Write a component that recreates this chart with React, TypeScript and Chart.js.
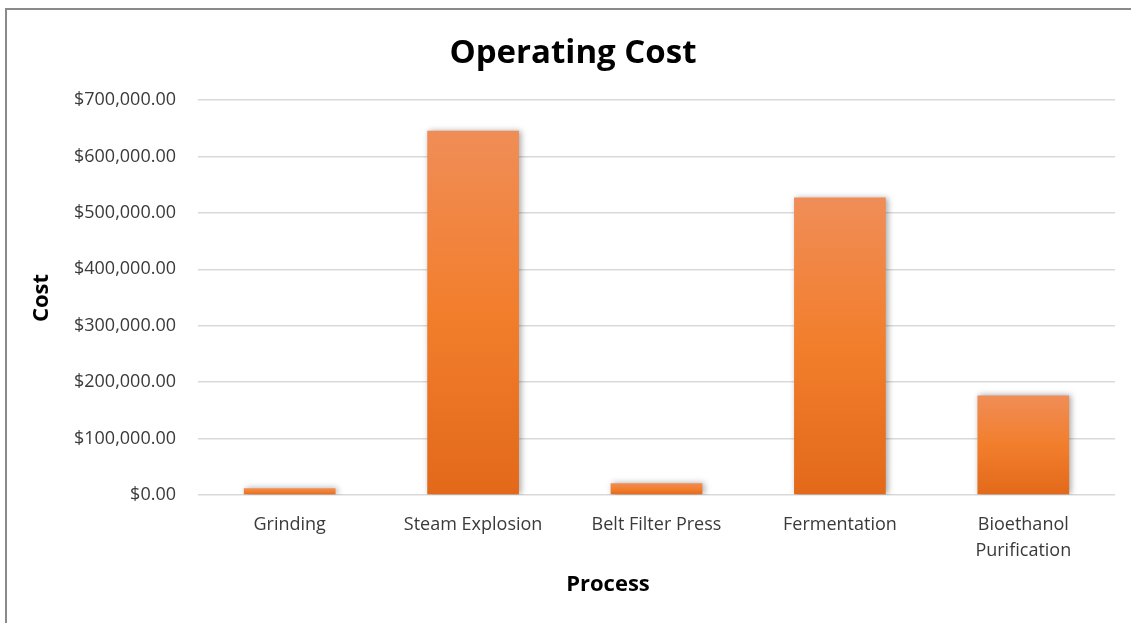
import React, { useEffect, useRef } from 'react';
import { Chart, registerables } from 'chart.js';

Chart.register(...registerables);

const categories: (string | string[])[] = [
  'Grinding',
  'Steam Explosion',
  'Belt Filter Press',
  'Fermentation',
  ['Bioethanol', 'Purification'],
];
const costValues: number[] = [12000, 645500, 21000, 527000, 176500];
const yTickValues: number[] = [0, 100000, 200000, 300000, 400000, 500000, 600000, 700000];
const chartTitle = 'Operating Cost';
const xAxisTitle = 'Process';
const yAxisTitle = 'Cost';

const FONT = '"Open Sans", "Noto Sans", sans-serif';

const fmtMoney = (v: number) =>
  '$' + v.toLocaleString('en-US', { minimumFractionDigits: 2, maximumFractionDigits: 2 });

const framePlugin = {
  id: 'frameAndTitles',
  beforeDraw(chart: any) {
    const ctx = chart.ctx as CanvasRenderingContext2D;
    ctx.save();
    ctx.fillStyle = '#8a8a8a';
    ctx.fillRect(5, 8, 2, chart.height);
    ctx.fillRect(5, 8, chart.width, 2);
    ctx.restore();
  },
  afterDraw(chart: any) {
    const ctx = chart.ctx as CanvasRenderingContext2D;
    ctx.save();
    ctx.fillStyle = '#000000';
    ctx.textAlign = 'center';
    ctx.textBaseline = 'middle';
    ctx.font = `bold 33px ${FONT}`;
    ctx.fillText(chartTitle, 573, 54);
    ctx.font = `bold 22px ${FONT}`;
    ctx.fillText(xAxisTitle, 608, 585);
    ctx.translate(42, 298);
    ctx.rotate(-Math.PI / 2);
    ctx.fillText(yAxisTitle, 0, 0);
    ctx.restore();
  },
};

const shadowPlugin = {
  id: 'barShadow',
  beforeDatasetsDraw(chart: any) {
    const ctx = chart.ctx as CanvasRenderingContext2D;
    ctx.save();
    ctx.shadowColor = 'rgba(0,0,0,0.35)';
    ctx.shadowBlur = 6;
    ctx.shadowOffsetX = 2;
    ctx.shadowOffsetY = 0;
  },
  afterDatasetsDraw(chart: any) {
    chart.ctx.restore();
  },
};

export default function App() {
  const canvasRef = useRef<HTMLCanvasElement | null>(null);

  useEffect(() => {
    if (!canvasRef.current) return;
    const chart = new Chart(canvasRef.current, {
      type: 'bar',
      data: {
        labels: categories,
        datasets: [
          {
            label: 'Cost',
            data: costValues,
            backgroundColor: (c: any) => {
              const ch = c.chart;
              const y = ch.scales && ch.scales.y;
              if (!y || typeof c.raw !== 'number') return '#F27E2C';
              const top = y.getPixelForValue(c.raw);
              const base = y.getPixelForValue(0);
              if (!isFinite(top) || !isFinite(base) || top === base) return '#F27E2C';
              const g = ch.ctx.createLinearGradient(0, top, 0, base);
              g.addColorStop(0, '#F08D57');
              g.addColorStop(0.5, '#F27E2C');
              g.addColorStop(1, '#E2691A');
              return g;
            },
            borderWidth: 0,
            barPercentage: 0.5,
            categoryPercentage: 1,
          },
        ],
      },
      options: {
        animation: false,
        responsive: false,
        maintainAspectRatio: false,
        layout: { padding: { top: 100, right: 16, left: 0, bottom: 0 } },
        plugins: {
          legend: { display: false },
          tooltip: { enabled: false },
          title: { display: false },
        },
        scales: {
          x: {
            grid: { display: false, drawTicks: false },
            border: { display: false },
            ticks: {
              color: '#3a3a3a',
              font: { family: FONT, size: 18, lineHeight: 1.45 },
              padding: 17,
              maxRotation: 0,
              autoSkip: false,
            },
            afterFit(scale: any) {
              scale.height = 128;
            },
          },
          y: {
            min: 0,
            max: 700000,
            afterBuildTicks(scale: any) {
              scale.ticks = yTickValues.map((v) => ({ value: v }));
            },
            grid: { color: '#D9D9D9', lineWidth: 1.5, drawTicks: false },
            border: { display: false },
            ticks: {
              color: '#3a3a3a',
              font: { family: FONT, size: 18 },
              padding: 22,
              callback: (v: any) => fmtMoney(Number(v)),
            },
            afterFit(scale: any) {
              scale.width = 198;
            },
          },
        },
      },
      plugins: [framePlugin, shadowPlugin],
    });
    return () => chart.destroy();
  }, []);

  return (
    <div style={{ position: 'absolute', left: 0, top: 0, width: 1131, height: 623, overflow: 'hidden', background: '#ffffff' }}>
      <canvas ref={canvasRef} width={1131} height={623} style={{ display: 'block', width: 1131, height: 623 }} />
    </div>
  );
}
